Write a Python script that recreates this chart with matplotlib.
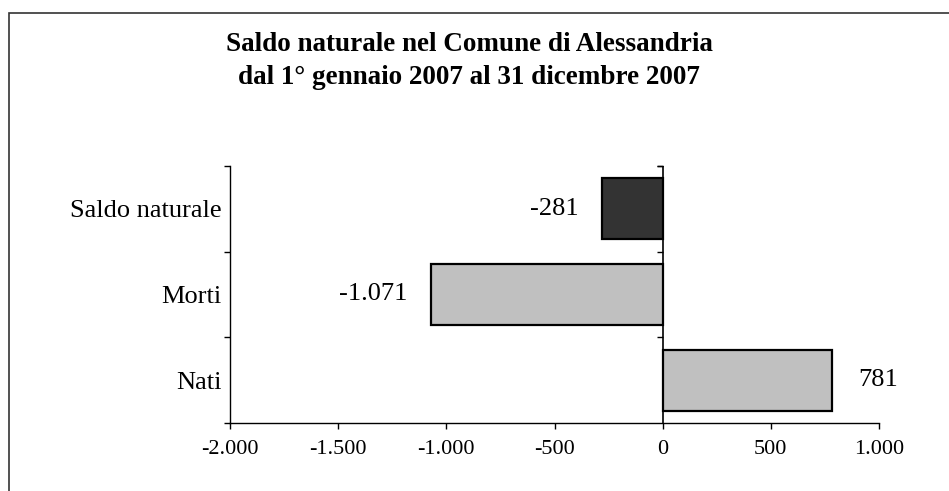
import matplotlib
matplotlib.use("Agg")
import matplotlib.pyplot as plt
import numpy as np
from matplotlib.patches import Rectangle

categories = ["Nati", "Morti", "Saldo naturale"]
values = [781, -1071, -281]
value_labels = ["781", "-1.071", "-281"]
bar_colors = ["#C0C0C0", "#C0C0C0", "#333333"]
xticks = [-2000, -1500, -1000, -500, 0, 500, 1000]
xtick_labels = ["-2.000", "-1.500", "-1.000", "-500", "0", "500", "1.000"]
title = "Saldo naturale nel Comune di Alessandria\ndal 1° gennaio 2007 al 31 dicembre 2007"

plt.rcParams['font.family'] = ['Liberation Serif', 'DejaVu Serif']

W, H = 949, 491
fig = plt.figure(figsize=(W / 100, H / 100), dpi=100)
fig.patch.set_facecolor('white')

# outer frame
fig.patches.append(Rectangle((8.5 / W, -0.1), 1.2, (H - 12.5) / H + 0.1,
                             transform=fig.transFigure, fill=False,
                             edgecolor='#333333', lw=1.2))

left, right, top, bottom = 230, 879, 166, 423
ax = fig.add_axes([left / W, (H - bottom) / H, (right - left) / W, (bottom - top) / H])

y = np.arange(len(categories))
ax.barh(y, values, height=0.714, color=bar_colors, edgecolor='black', linewidth=1.6, zorder=3)

ax.set_xlim(-2000, 1000)
ax.set_ylim(-0.5, len(categories) - 0.5)
ax.set_xticks(xticks)
ax.set_xticklabels(xtick_labels, fontsize=16)
ax.set_yticks(y)
ax.set_yticklabels(categories, fontsize=19)
ax.tick_params(axis='y', which='major', length=0, pad=6)
ax.set_yticks(np.arange(-0.5, len(categories)), minor=True)
ax.tick_params(axis='y', which='minor', length=4, width=1, direction='out')
ax.tick_params(axis='x', which='major', length=4, width=1, direction='out', pad=8)

for s in ['top', 'right']:
    ax.spines[s].set_visible(False)
for s in ['left', 'bottom']:
    ax.spines[s].set_linewidth(1)

# vertical axis line at zero with category-boundary ticks
ax.axvline(0, color='black', lw=1.2, zorder=4)
bounds = np.arange(0.5, len(categories))
ax.plot(np.zeros(len(bounds) + 1), np.append(bounds, len(categories) - 0.5),
        linestyle='none', marker=0, markersize=4, markeredgewidth=1,
        color='black', zorder=4, clip_on=False)

for yi, v, lab in zip(y, values, value_labels):
    off = 19 if v >= 0 else -17
    ax.annotate(lab, xy=(v, yi), xytext=(off, 0), textcoords='offset points',
                ha='left' if v >= 0 else 'right', va='center', fontsize=19)

fig.text(469 / W, 1 - 61 / H, title, ha='center', va='center', fontsize=19.5,
         fontweight='bold', linespacing=1.47)

fig.savefig("out.png", dpi=100)
